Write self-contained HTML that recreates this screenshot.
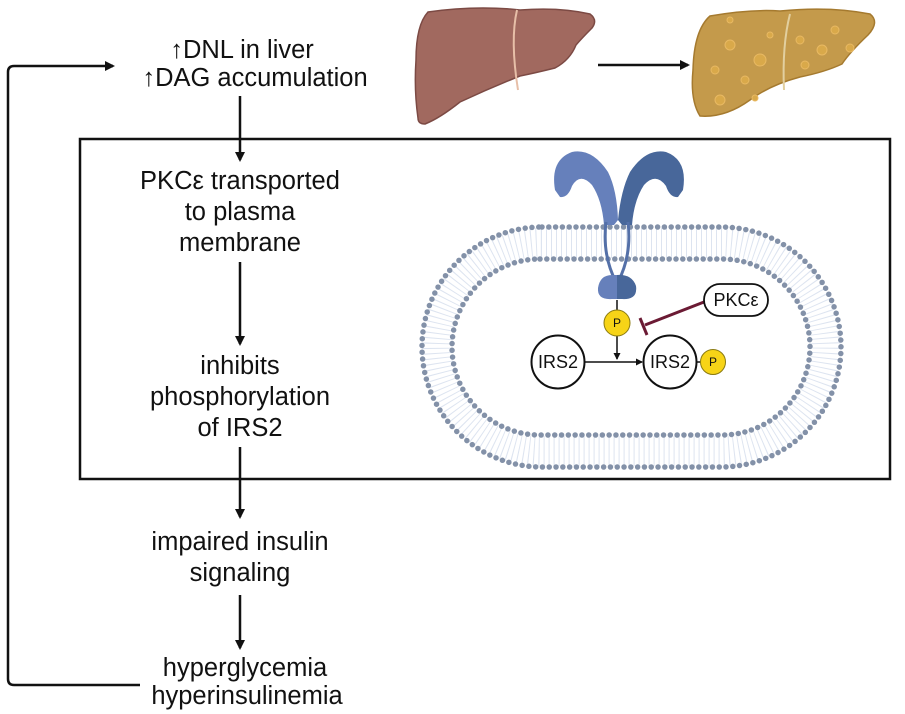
<!DOCTYPE html>
<html><head><meta charset="utf-8"><style>
html,body{margin:0;padding:0;background:#fff;}
svg{display:block;}
text{font-family:"Liberation Sans",sans-serif;}
</style></head><body>
<svg width="905" height="714" viewBox="0 0 905 714">
<defs>
<marker id="ah" markerWidth="10" markerHeight="10" refX="8" refY="5" orient="auto" markerUnits="userSpaceOnUse"><path d="M0,0 L10,5 L0,10 z" fill="#111"/></marker>
<marker id="ahs" markerWidth="7" markerHeight="7" refX="6" refY="3.5" orient="auto" markerUnits="userSpaceOnUse"><path d="M0,0 L7,3.5 L0,7 z" fill="#111"/></marker>
</defs>
<rect x="80" y="139" width="810" height="340" fill="none" stroke="#111" stroke-width="2.5"/>
<g font-size="25.5" fill="#111" text-anchor="middle">
<text x="242" y="58">↑DNL in liver</text>
<text x="255" y="86">↑DAG accumulation</text>
<text x="240" y="189">PKCε transported</text>
<text x="240" y="220">to plasma</text>
<text x="240" y="251">membrane</text>
<text x="240" y="374">inhibits</text>
<text x="240" y="405">phosphorylation</text>
<text x="240" y="436">of IRS2</text>
<text x="240" y="550">impaired insulin</text>
<text x="240" y="581">signaling</text>
<text x="245" y="676">hyperglycemia</text>
<text x="247" y="704">hyperinsulinemia</text>
</g>
<g stroke="#111" stroke-width="2.5" fill="none">
<line x1="240" y1="96" x2="240" y2="160" marker-end="url(#ah)"/>
<line x1="240" y1="262" x2="240" y2="344" marker-end="url(#ah)"/>
<line x1="240" y1="447" x2="240" y2="517" marker-end="url(#ah)"/>
<line x1="240" y1="595" x2="240" y2="648" marker-end="url(#ah)"/>
<path d="M140,685 H14 Q8,685 8,679 V72 Q8,66 14,66 H113" marker-end="url(#ah)"/>
<line x1="598" y1="65" x2="688" y2="65" marker-end="url(#ah)"/>
</g>
<path d="M428,12 Q470,6 510,9 L520,10 Q560,7 590,14 Q598,20 592,28 Q582,38 576,45 Q570,60 555,68 Q535,73 520,76 Q490,88 460,102 Q440,118 425,124 Q418,124 418,118 Q414,90 416,60 Q416,25 428,12z" fill="#a1695f" stroke="#7c4a44" stroke-width="1.5"/>
<path d="M517,10 Q510,40 518,90" stroke="#e7bfa8" stroke-width="2" fill="none"/>
<path d="M710,16 Q750,9 780,11 Q830,6 870,14 Q880,22 868,35 Q850,52 842,64 Q825,72 800,77 Q770,85 750,100 Q725,118 700,116 Q690,100 693,70 Q694,30 710,16z" fill="#c49a4b" stroke="#a57a2f" stroke-width="1.5"/>
<path d="M790,14 Q782,45 784,90" stroke="#e2cf9f" stroke-width="2" fill="none"/>
<g fill="#d9a94a" stroke="#e8b963" stroke-width="1">
<circle cx="730" cy="45" r="5"/><circle cx="760" cy="60" r="6"/><circle cx="745" cy="80" r="4"/><circle cx="715" cy="70" r="4"/><circle cx="822" cy="50" r="5"/><circle cx="850" cy="48" r="4"/><circle cx="800" cy="40" r="4"/><circle cx="770" cy="35" r="3"/><circle cx="720" cy="100" r="5"/><circle cx="755" cy="98" r="3"/><circle cx="835" cy="30" r="4"/><circle cx="805" cy="65" r="4"/><circle cx="730" cy="20" r="3"/>
</g>
<rect x="437" y="243" width="389" height="208" rx="104" fill="none" stroke="#c6d2e6" stroke-width="30" stroke-dasharray="1 4" opacity="0.6"/>
<rect x="422" y="227" width="419" height="240" rx="120" fill="none" stroke="#8391a8" stroke-width="5.5" stroke-linecap="round" stroke-dasharray="0 6.8"/>
<rect x="452" y="259" width="358" height="176" rx="88" fill="none" stroke="#8391a8" stroke-width="5.5" stroke-linecap="round" stroke-dasharray="0 6.8"/>
<path d="M555,190 Q550,160 572,152 Q592,148 608,172 Q617,190 618,220 L614,225 L604,225 Q602,200 592,185 Q580,172 572,186 Q568,198 560,197 Z" fill="#6680bb"/>
<path d="M683,190 Q688,160 666,152 Q646,148 630,172 Q621,190 618,220 L622,225 L632,225 Q634,200 644,185 Q656,172 666,186 Q670,198 678,197 Z" fill="#48679a"/>
<path d="M606,222 Q602,255 616,282 M628,222 Q632,255 618,282" stroke="#5470a8" stroke-width="3" fill="none"/>
<path d="M612,275 Q600,275 598,288 Q597,300 612,299 L617,299 L617,275 Z" fill="#6680bb"/>
<path d="M617,275 Q632,274 636,286 Q638,300 622,299 L617,299 Z" fill="#48679a"/>
<line x1="617" y1="300" x2="617" y2="310" stroke="#111" stroke-width="1.5"/>
<line x1="617" y1="336" x2="617" y2="359" stroke="#111" stroke-width="1.5" marker-end="url(#ahs)"/>
<line x1="585" y1="362" x2="642" y2="362" stroke="#111" stroke-width="1.5" marker-end="url(#ahs)"/>
<line x1="704" y1="302" x2="645" y2="325" stroke="#6b1a34" stroke-width="3"/>
<line x1="640" y1="318" x2="647" y2="335" stroke="#6b1a34" stroke-width="3"/>
<circle cx="617" cy="323" r="13" fill="#f7d417" stroke="#8a7a10" stroke-width="1"/>
<circle cx="558" cy="362" r="26.5" fill="#fff" stroke="#111" stroke-width="2"/>
<circle cx="670" cy="362" r="26.5" fill="#fff" stroke="#111" stroke-width="2"/>
<line x1="697" y1="362" x2="701" y2="362" stroke="#111" stroke-width="1.5"/>
<circle cx="713" cy="362" r="12.5" fill="#f7d417" stroke="#8a7a10" stroke-width="1"/>
<rect x="704" y="284" width="64" height="32" rx="16" fill="#fff" stroke="#111" stroke-width="1.8"/>
<g font-size="18" fill="#111" text-anchor="middle">
<text x="558" y="368">IRS2</text>
<text x="670" y="368">IRS2</text>
<text x="736" y="306">PKCε</text>
</g>
<g font-size="12" fill="#111" text-anchor="middle">
<text x="617" y="327">P</text>
<text x="713" y="366">P</text>
</g>
</svg>
</body></html>
